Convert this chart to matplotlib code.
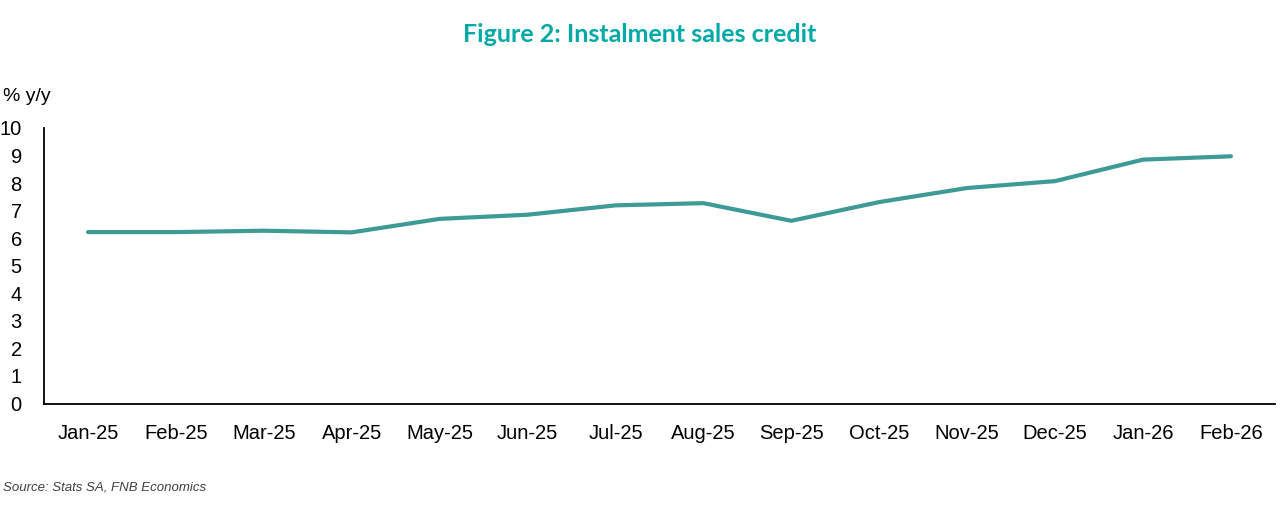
import matplotlib.pyplot as plt

# instalment sales credit, % y/y
months = ['Jan-25', 'Feb-25', 'Mar-25', 'Apr-25', 'May-25', 'Jun-25', 'Jul-25',
          'Aug-25', 'Sep-25', 'Oct-25', 'Nov-25', 'Dec-25', 'Jan-26', 'Feb-26']
growth = [6.22, 6.22, 6.27, 6.21, 6.70, 6.85, 7.19,
          7.27, 6.63, 7.31, 7.82, 8.07, 8.85, 8.97]
y_ticks = list(range(0, 11))

plt.rcParams['font.family'] = ['Liberation Sans', 'DejaVu Sans']

fig = plt.figure(figsize=(12.8, 5.2), dpi=100)
ax = fig.add_axes([0.0344, 0.224, 0.9616, 0.530])

x = range(len(months))
ax.plot(x, growth, color='#3E9A96', linewidth=3, solid_capstyle='round')

ax.set_xlim(-0.5, len(months) - 0.5)
ax.set_ylim(0, 10)
ax.set_xticks(list(x))
ax.set_xticklabels(months)
ax.set_yticks(y_ticks)
ax.tick_params(axis='both', length=0, labelsize=14.5, colors='black')
ax.tick_params(axis='y', pad=16)
ax.tick_params(axis='x', pad=15)

for s in ['top', 'right']:
    ax.spines[s].set_visible(False)
for s in ['left', 'bottom']:
    ax.spines[s].set_linewidth(1.3)
    ax.spines[s].set_color('black')

fig.text(0.5, 0.933, 'Figure 2: Instalment sales credit', ha='center', va='center',
         fontsize=18, fontweight='bold', color='#00A9A5', family=['Lato', 'DejaVu Sans'])
fig.text(0.002, 0.815, '% y/y', ha='left', va='center', fontsize=14, color='black')
fig.text(0.002, 0.063, 'Source: Stats SA, FNB Economics', ha='left', va='center',
         fontsize=9.5, style='italic', color='#404040')

fig.savefig('out.png', dpi=100)
